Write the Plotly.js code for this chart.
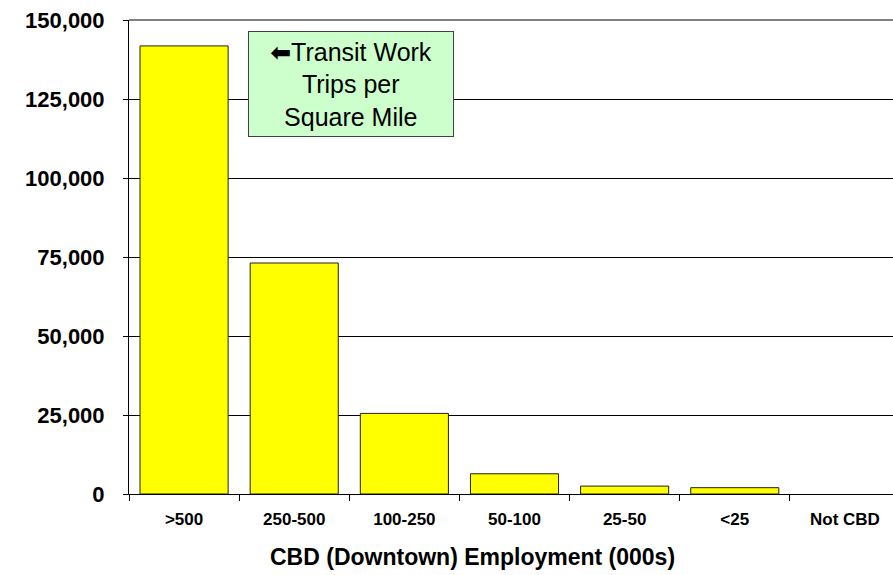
<!DOCTYPE html>
<html>
<head>
<meta charset="utf-8">
<script src="https://cdn.plot.ly/plotly-3.0.1.min.js"></script>
<style>
html, body { margin: 0; padding: 0; overflow: hidden; background: #fff; }
#chart { width: 900px; height: 575px; }
</style>
</head>
<body>
<div id="chart"></div>
<script>
const categories = [">500", "250-500", "100-250", "50-100", "25-50", "<25", "Not CBD"];
const tripsPerSqMile = [141800, 73100, 25500, 6400, 2500, 2000, null];
const yTickValues = [0, 25000, 50000, 75000, 100000, 125000, 150000];
const xTitle = "CBD (Downtown) Employment (000s)";
const noteText = "<span style=\"font-family:'DejaVu Sans';font-weight:bold\">\u2B05</span>Transit Work<br>Trips per<br>Square Mile";

const FONT = "Arial, 'Liberation Sans', sans-serif";

const trace = {
  type: "bar",
  x: categories,
  y: tripsPerSqMile,
  marker: { color: "#FFFF00", line: { color: "#222222", width: 1 } },
  hoverinfo: "x+y"
};

const layout = {
  width: 900,
  height: 575,
  margin: { l: 129, r: 0, t: 20, b: 81 },
  paper_bgcolor: "#ffffff",
  plot_bgcolor: "#ffffff",
  font: { family: FONT, color: "#000000" },
  bargap: 0.2,
  showlegend: false,
  xaxis: {
    type: "category",
    tickson: "boundaries",
    ticks: "outside",
    ticklen: 6,
    tickcolor: "#000000",
    showline: true,
    linecolor: "#000000",
    linewidth: 1,
    showgrid: false,
    ticklabelstandoff: 10,
    tickfont: { size: 17, family: FONT, weight: "bold" }
  },
  yaxis: {
    range: [0, 150000],
    tickvals: yTickValues,
    tickformat: ",",
    ticks: "outside",
    ticklen: 5,
    tickcolor: "#000000",
    showline: true,
    linecolor: "#000000",
    linewidth: 1,
    showgrid: true,
    gridcolor: "#000000",
    gridwidth: 1,
    zeroline: false,
    ticklabelstandoff: 14,
    tickfont: { size: 22, family: FONT, weight: "bold" }
  },
  shapes: [
    { type: "line", xref: "paper", yref: "paper", x0: 0, x1: 1, y0: 1, y1: 1,
      line: { color: "#808080", width: 2 }, layer: "above" }
  ],
  annotations: [
    {
      xref: "paper", yref: "paper",
      x: 0.2873, y: 0.864,
      xanchor: "center", yanchor: "middle",
      text: noteText,
      showarrow: false,
      align: "center",
      width: 204, height: 104,
      bgcolor: "#CCFFCC",
      bordercolor: "#404040",
      borderwidth: 1,
      borderpad: 0,
      font: { size: 25, color: "#000000", family: FONT }
    },
    {
      xref: "paper", yref: "paper",
      x: 0.445, y: -0.133,
      xanchor: "center", yanchor: "middle",
      text: "<b>" + xTitle + "</b>",
      showarrow: false,
      font: { size: 23, color: "#000000", family: FONT }
    }
  ]
};

Plotly.newPlot("chart", [trace], layout, { displayModeBar: false, staticPlot: true });
</script>
</body>
</html>
